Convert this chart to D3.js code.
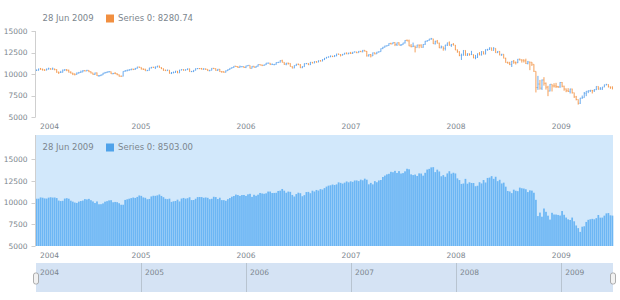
<!DOCTYPE html>
<html>
<head>
<meta charset="utf-8">
<script src="https://cdnjs.cloudflare.com/ajax/libs/d3/7.8.5/d3.min.js"></script>
<style>
  body { margin: 0; background: #fff; }
  text { font-family: "DejaVu Sans", Verdana, sans-serif; fill: #7c868e; }
</style>
</head>
<body>
<div id="chart"></div>
<script>
// weekly data, first week starts on this Sunday
var firstWeek = "2004-01-04";
var seriesName = "Series 0";
var yearTicks = ["2004", "2005", "2006", "2007", "2008", "2009"];
var yTicks = [5000, 7500, 10000, 12500, 15000];

var opens = [
  10452,10458,10600,10568,10488,10471,10579,10620,10584,10596,10529,10240,10186,10212,10470,10515,10452,10225,10118,10012,9968,10118,10188,10242,10410,10372,10435,10282,10140,9962,10139,9815,9825,9912,10110,10173,10260,10284,10047,10080,10055,9933,9758,9757,10315,10385,10456,10522,10592,10543,10661,10827,
  10783,10603,10559,10393,10427,10716,10796,10785,10841,10941,10774,10630,10442,10404,10462,10088,10157,10192,10346,10141,10471,10542,10461,10513,10623,10297,10303,10449,10640,10651,10641,10559,10600,10559,10397,10447,10678,10641,10419,10568,10292,10287,10215,10402,10530,10686,10766,10931,10877,10778,10875,10884,
  10777,10959,11019,10667,10908,10794,10920,11116,11061,11022,11077,11280,11280,11109,11120,11137,11347,11382,11577,11380,11144,11279,11247,10891,10706,10989,11150,11090,10739,10868,11219,11240,11088,11381,11284,11464,11392,11560,11508,11679,11850,11960,12002,12090,12031,12108,12342,12280,12194,12307,12445,12343,12463,
  12398,12556,12565,12487,12653,12580,12767,12647,12114,12276,12110,12481,12354,12560,12612,12961,13120,13264,13327,13556,13507,13668,13424,13639,13361,13409,13612,13908,13851,13265,13182,13240,13079,13378,13358,13113,13442,13820,13896,14066,14093,13522,13807,13595,13043,13176,12981,13372,13625,13340,13450,13365,
  12800,12606,12159,12207,12743,12183,12348,12266,12266,11894,11951,12361,12216,12609,12325,12849,12892,13058,12746,12987,12480,12638,12210,12307,11843,11346,11289,11100,11497,11370,11326,11734,11659,11628,11543,11220,11421,11388,11143,10325,8451,8852,8378,9325,8943,8497,8046,8829,8635,8629,8579,8515,
  9035,8599,8281,8077,8000,8280,7850,7366,7063,6627,7224,7278,7776,8018,8083,8131,8076,8212,8575,8268,8277,8500,8763,8799,8539,8503
];
var highs = [
  10530,10640,10720,10640,10560,10650,10750,10680,10760,10640,10560,10290,10380,10530,10570,10580,10520,10330,10160,10080,10200,10260,10410,10470,10460,10500,10460,10330,10160,10180,10200,9900,9970,10150,10260,10310,10360,10310,10140,10240,10100,9960,9830,10330,10470,10520,10560,10620,10620,10720,10850,10870,
  10790,10660,10630,10500,10740,10830,10850,10870,10960,10980,10800,10660,10530,10520,10470,10250,10300,10380,10370,10500,10560,10560,10560,10660,10630,10380,10470,10670,10700,10710,10720,10690,10650,10570,10500,10700,10720,10660,10600,10600,10340,10330,10430,10560,10700,10800,10940,10950,10920,10990,10900,10890,
  10980,11050,11020,10930,10960,10940,11130,11140,11100,11100,11300,11330,11300,11250,11170,11370,11420,11600,11670,11390,11300,11330,11260,10910,11010,11190,11230,11160,10920,11240,11290,11260,11400,11400,11480,11500,11580,11620,11720,11870,11990,12050,12160,12120,12220,12360,12370,12300,12340,12460,12510,12480,12580,
  12570,12630,12590,12680,12690,12800,12790,12680,12300,12330,12500,12500,12580,12640,12980,13160,13300,13340,13580,13640,13690,13690,13650,13700,13480,13630,13940,14020,14000,13480,13660,13300,13400,13420,13460,13480,13850,13920,14090,14200,14100,13870,13960,13650,13310,13190,13400,13650,13790,13480,13600,13370,
  12860,12640,12380,12770,12760,12420,12400,12700,12280,12230,12400,12560,12660,12620,12870,12920,13100,13060,13130,12990,12670,12660,12350,12310,11900,11450,11430,11520,11640,11460,11760,11800,11700,11720,11790,11530,11430,11400,11150,10330,9800,9330,9380,9650,9030,8650,8850,8840,8950,8990,8630,9080,
  9090,8660,8340,8380,8320,8320,7860,7480,7070,7250,7520,7930,8030,8100,8170,8160,8250,8590,8580,8500,8520,8780,8880,8810,8560,8580
];
var lows = [
  10370,10410,10520,10420,10380,10440,10560,10520,10530,10450,10160,10020,10150,10200,10390,10340,10190,10080,9890,9850,9940,10060,10170,10230,10320,10350,10230,10080,9930,9920,9790,9700,9780,9890,10080,10130,10200,10020,9990,10010,9880,9720,9700,9740,10290,10330,10390,10450,10470,10500,10640,10740,
  10540,10480,10380,10360,10420,10660,10730,10590,10780,10750,10590,10400,10380,10390,10080,10010,10100,10150,10120,10140,10440,10400,10410,10480,10280,10240,10240,10430,10580,10580,10540,10520,10500,10370,10340,10440,10590,10400,10380,10270,10160,10160,10200,10370,10500,10650,10750,10830,10720,10750,10790,10710,
  10700,10930,10650,10660,10760,10740,10870,11020,10930,10960,11060,11200,11080,11080,11020,11100,11280,11340,11360,11080,11030,11110,10880,10680,10690,10960,11060,10720,10700,10850,11150,11060,11060,11260,11270,11330,11380,11480,11490,11640,11820,11930,11980,11980,12000,12090,12250,12050,12170,12280,12320,12330,12330,
  12340,12530,12430,12480,12560,12540,12620,12040,12050,11940,12100,12290,12330,12490,12600,12900,13080,13200,13290,13440,13490,13250,13260,13340,13260,13390,13550,13820,13240,13110,13160,12520,13070,13000,13080,13060,13400,13750,13880,14000,13500,13440,13560,13020,12990,12720,12740,13260,13320,13160,13340,12790,
  12480,12080,11640,12150,12150,12110,12140,12230,11840,11730,11880,12190,12170,12300,12300,12710,12800,12730,12730,12460,12450,12190,12130,11830,11330,11220,11050,10830,11200,11120,11280,11580,11340,11350,11180,11140,10460,10950,10260,7880,8180,8200,8170,8670,8210,7450,8000,7990,8450,8390,8400,8420,
  8470,8080,7910,7930,7760,7750,7250,6960,6470,6550,7150,7270,7450,7800,7930,7760,7940,8150,8200,8200,8170,8490,8700,8460,8300,8260
];
var closes = [
  10458,10600,10568,10488,10471,10579,10620,10584,10596,10529,10240,10186,10212,10470,10515,10452,10225,10118,10012,9968,10118,10188,10242,10410,10372,10435,10282,10140,9962,10139,9815,9825,9912,10110,10173,10260,10284,10047,10080,10055,9933,9758,9757,10315,10385,10456,10522,10592,10543,10661,10827,10783,
  10603,10559,10393,10427,10716,10796,10785,10841,10941,10774,10630,10442,10404,10462,10088,10157,10192,10346,10141,10471,10542,10461,10513,10623,10297,10303,10449,10640,10651,10641,10559,10600,10559,10397,10447,10678,10641,10419,10568,10292,10287,10215,10402,10530,10686,10766,10931,10877,10778,10875,10884,10777,
  10959,11019,10667,10908,10794,10920,11116,11061,11022,11077,11280,11280,11109,11120,11137,11347,11382,11577,11380,11144,11279,11247,10891,10706,10989,11150,11090,10739,10868,11219,11240,11088,11381,11284,11464,11392,11560,11508,11679,11850,11960,12002,12090,12031,12108,12342,12280,12194,12307,12445,12343,12463,12398,
  12556,12565,12487,12653,12580,12767,12647,12114,12276,12110,12481,12354,12560,12612,12961,13120,13264,13327,13556,13507,13668,13424,13639,13361,13409,13612,13908,13851,13265,13182,13240,13079,13378,13358,13113,13442,13820,13896,14066,14093,13522,13807,13595,13043,13176,12981,13372,13625,13340,13450,13365,12800,
  12606,12159,12207,12743,12183,12348,12266,12266,11894,11951,12361,12216,12609,12325,12849,12892,13058,12746,12987,12480,12638,12210,12307,11843,11346,11289,11100,11497,11370,11326,11734,11659,11628,11543,11220,11421,11388,11143,10325,8451,8852,8378,9325,8943,8497,8046,8829,8635,8629,8579,8515,9035,
  8599,8281,8077,8000,8280,7850,7366,7063,6627,7224,7278,7776,8018,8083,8131,8076,8212,8575,8268,8277,8500,8763,8799,8539,8438,8280.74
];

[opens, highs, lows].forEach(function(a, i) {
  if (a.length !== closes.length) throw new Error("array " + i + " has " + a.length + " vs " + closes.length);
});

var parseDay = d3.utcParse("%Y-%m-%d");
var parseYear = d3.utcParse("%Y");
var fmtDay = d3.utcFormat("%d %b %Y");

var start = parseDay(firstWeek);
var dates = d3.utcWeek.range(start, d3.utcWeek.offset(start, closes.length));

var data = dates.map(function(d, i) {
  return { date: d, open: opens[i], high: highs[i], low: lows[i], close: closes[i] };
});

var W = 620, H = 300;
var left = 36, right = 613;
var risingColor = "#5aa2ec", fallingColor = "#f39446";

var svg = d3.select("#chart").append("svg")
  .attr("width", W)
  .attr("height", H);

var x = d3.scaleUtc()
  .domain([parseDay("2004-01-02"), parseDay("2009-06-30")])
  .range([left, right]);

var yTop = d3.scaleLinear().domain([5000, 15000]).range([117.3, 31]);
var yBot = d3.scaleLinear().domain([5000, 15000]).range([246, 159.3]);

function drawYAxis(y, y0, y1) {
  var g = svg.append("g");
  g.append("line")
    .attr("x1", left - 0.5).attr("x2", left - 0.5)
    .attr("y1", y0).attr("y2", y1)
    .attr("stroke", "#cfcfcf");
  g.selectAll("line.tick").data(yTicks).enter()
    .append("line")
    .attr("class", "tick")
    .attr("x1", left - 4.5).attr("x2", left - 0.5)
    .attr("y1", function(d) { return Math.round(y(d)) + 0.5; })
    .attr("y2", function(d) { return Math.round(y(d)) + 0.5; })
    .attr("stroke", "#cfcfcf");
  g.selectAll("text").data(yTicks).enter()
    .append("text")
    .attr("x", left - 8.5)
    .attr("y", function(d) { return y(d); })
    .attr("dy", "0.35em")
    .attr("text-anchor", "end")
    .style("font-size", "7.5px")
    .text(function(d) { return d; });
}

function drawXLabels(yc) {
  var g = svg.append("g");
  yearTicks.forEach(function(t) {
    var p = x(parseYear(t));
    var txt = g.append("text")
      .attr("y", yc)
      .attr("dy", "0.35em")
      .attr("text-anchor", "middle")
      .style("font-size", "7.5px")
      .text(t);
    var w = txt.node().getComputedTextLength();
    if (p - w / 2 < left + 4) p = left + 4 + w / 2;
    txt.attr("x", p);
  });
}

function drawLegend(yc, color, label) {
  var g = svg.append("g");
  g.append("text")
    .attr("x", 42.5).attr("y", yc).attr("dy", "0.35em")
    .style("font-size", "8.5px")
    .text(fmtDay(dates[dates.length - 1]));
  g.append("rect")
    .attr("x", 106).attr("y", yc - 4)
    .attr("width", 8).attr("height", 8)
    .attr("fill", color);
  g.append("text")
    .attr("x", 118).attr("y", yc).attr("dy", "0.35em")
    .style("font-size", "8.5px")
    .text(label);
}

// top plot: OHLC
drawYAxis(yTop, 31, 117.3);

var ohlc = svg.append("g").selectAll("g").data(data).enter().append("g")
  .attr("stroke", function(d) { return d.close >= d.open ? risingColor : fallingColor; })
  .attr("stroke-width", 0.9);
ohlc.append("line")
  .attr("x1", function(d) { return x(d.date); })
  .attr("x2", function(d) { return x(d.date); })
  .attr("y1", function(d) { return yTop(d.high); })
  .attr("y2", function(d) { return yTop(d.low); });
ohlc.append("line")
  .attr("x1", function(d) { return x(d.date) - 0.6; })
  .attr("x2", function(d) { return x(d.date); })
  .attr("y1", function(d) { return yTop(d.open); })
  .attr("y2", function(d) { return yTop(d.open); });
ohlc.append("line")
  .attr("x1", function(d) { return x(d.date); })
  .attr("x2", function(d) { return x(d.date) + 0.6; })
  .attr("y1", function(d) { return yTop(d.close); })
  .attr("y2", function(d) { return yTop(d.close); });

var last = data[data.length - 1];
drawLegend(18.5, last.close >= last.open ? "#5aa6ec" : "#f18f40",
  seriesName + ": " + last.close.toFixed(2));
drawXLabels(126);

// bottom plot: columns
svg.append("rect")
  .attr("x", left).attr("y", 135)
  .attr("width", right - left).attr("height", 246 - 135)
  .attr("fill", "#d2e8fb");

var colW = (x(dates[1]) - x(dates[0])) * 0.86;
svg.append("g").selectAll("rect").data(data).enter()
  .append("rect")
  .attr("x", function(d) { return x(d.date) - colW / 2; })
  .attr("width", colW)
  .attr("y", function(d) { return yBot(d.open); })
  .attr("height", function(d) { return yBot(5000) - yBot(d.open); })
  .attr("fill", "#6cb6f4");

drawYAxis(yBot, 135, 246);
drawLegend(147.5, "#4fa2ea", seriesName + ": " + opens[opens.length - 1].toFixed(2));
drawXLabels(255);

// scroller
var sc = svg.append("g");
sc.append("rect")
  .attr("x", left).attr("y", 263)
  .attr("width", right - left).attr("height", 29)
  .attr("fill", "#d5e3f4");
yearTicks.forEach(function(t, i) {
  var p = x(parseYear(t));
  if (i > 0) {
    sc.append("line")
      .attr("x1", Math.round(p) + 0.5).attr("x2", Math.round(p) + 0.5)
      .attr("y1", 263).attr("y2", 292)
      .attr("stroke", "#b8c4d0");
  }
  sc.append("text")
    .attr("x", Math.max(p, left) + 4)
    .attr("y", 272).attr("dy", "0.35em")
    .style("font-size", "7.5px")
    .text(t);
});
[left, right].forEach(function(hx) {
  sc.append("rect")
    .attr("x", hx - 2.5).attr("y", 273)
    .attr("width", 5).attr("height", 11)
    .attr("rx", 2).attr("ry", 2)
    .attr("fill", "#f2f2f2")
    .attr("stroke", "#9a9a9a")
    .attr("stroke-width", 0.8);
});
</script>
</body>
</html>
